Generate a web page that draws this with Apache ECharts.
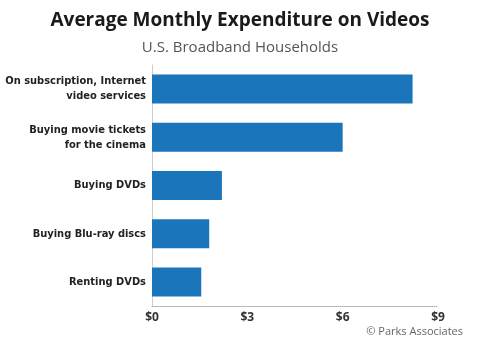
<!DOCTYPE html>
<html>
<head>
<meta charset="utf-8">
<script src="https://cdn.jsdelivr.net/npm/echarts@6/dist/echarts.min.js"></script>
<style>
html, body { margin: 0; padding: 0; background: #fff; }
#main { width: 480px; height: 350px; }
</style>
</head>
<body>
<div id="main"></div>
<script>
var categories = [
    'On subscription, Internet\nvideo services',
    'Buying movie tickets\nfor the cinema',
    'Buying DVDs',
    'Buying Blu-ray discs',
    'Renting DVDs'
];
var spending = [8.2, 6.0, 2.2, 1.8, 1.55];
var tickValues = [0, 3, 6, 9];

var myChart = echarts.init(document.getElementById('main'));

myChart.setOption({
    animation: false,
    title: [
        {
            text: 'Average Monthly Expenditure on Videos',
            left: 'center',
            top: 6,
            textStyle: { fontFamily: 'Open Sans', fontWeight: 'bold', fontSize: 19, color: '#1a1a1a' }
        },
        {
            text: 'U.S. Broadband Households',
            left: 'center',
            top: 35,
            textStyle: { fontFamily: 'Open Sans', fontWeight: 'normal', fontSize: 15, color: '#555' }
        },
        {
            text: '© Parks Associates',
            right: 12,
            top: 321,
            textStyle: { fontFamily: 'Open Sans', fontWeight: 'normal', fontSize: 11, color: '#666' }
        }
    ],
    grid: { left: 152, right: 42, top: 65, bottom: 44, outerBoundsMode: 'none' },
    xAxis: {
        type: 'value',
        min: 0,
        max: 9,
        interval: 3,
        axisLine: { show: true, lineStyle: { color: '#aaa', type: 'dotted' } },
        axisTick: { show: false },
        splitLine: { show: false },
        axisLabel: {
            margin: 6,
            fontFamily: 'Open Sans',
            fontWeight: 'bold',
            fontSize: 12,
            color: '#333',
            formatter: function (v) {
                return tickValues.indexOf(v) >= 0 ? '$' + v : '';
            }
        }
    },
    yAxis: {
        type: 'category',
        inverse: true,
        data: categories,
        axisLine: { show: true, lineStyle: { color: '#ccc' } },
        axisTick: { show: false },
        axisLabel: {
            margin: 6,
            fontFamily: 'DejaVu Sans Condensed',
            fontWeight: 'bold',
            fontSize: 11,
            lineHeight: 15,
            color: '#222'
        }
    },
    series: [
        {
            type: 'bar',
            data: spending,
            barWidth: 29,
            itemStyle: { color: '#1a75bb' }
        }
    ]
});
</script>
</body>
</html>
